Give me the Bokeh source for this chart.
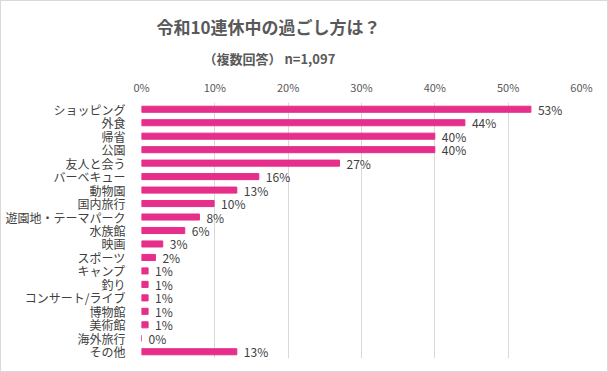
from bokeh.plotting import figure
from bokeh.models import Range1d, FactorRange, FixedTicker, PrintfTickFormatter, Title, ColumnDataSource
from bokeh.core.properties import value
from bokeh.embed import file_html
from bokeh.resources import INLINE

categories = ["ショッピング", "外食", "帰省", "公園", "友人と会う", "バーベキュー", "動物園", "国内旅行",
              "遊園地・テーマパーク", "水族館", "映画", "スポーツ", "キャンプ", "釣り", "コンサート/ライブ",
              "博物館", "美術館", "海外旅行", "その他"]
values = [53.1, 44.1, 40.0, 40.0, 27.0, 16.0, 13.0, 9.9, 7.9, 5.9, 2.9, 1.9, 0.9, 0.9, 0.9, 0.9, 0.9, 0.0, 13.0]
labels = ["53%", "44%", "40%", "40%", "27%", "16%", "13%", "10%", "8%", "6%", "3%", "2%", "1%", "1%", "1%",
          "1%", "1%", "0%", "13%"]
ticks = [0, 10, 20, 30, 40, 50, 60]

FONT = "Noto Sans CJK JP"
TXT = "#595959"

p = figure(width=608, height=372, output_backend="svg", toolbar_location=None,
           x_range=Range1d(0, 60), y_range=FactorRange(factors=categories[::-1]),
           x_axis_location="above", min_border_left=140, min_border_right=28,
           min_border_bottom=15, min_border_top=101)

src = ColumnDataSource(dict(cat=categories, val=values, lab=labels))
p.hbar(y="cat", right="val", left=0, height=0.45, color="#E62E8B", source=src)
p.text(x="val", y="cat", text="lab", source=src, x_offset=7, text_baseline="middle",
       text_font=value(FONT), text_font_size="12px", text_color="#404040")

p.xaxis.ticker = FixedTicker(ticks=ticks)
p.xaxis.formatter = PrintfTickFormatter(format="%d%%")
p.xaxis.axis_line_color = None
p.xaxis.major_tick_line_color = None
p.xaxis.minor_tick_line_color = None
p.xaxis.major_label_text_font = FONT
p.xaxis.major_label_text_font_size = "11px"
p.xaxis.major_label_text_color = TXT
p.xaxis.major_label_standoff = 2

p.yaxis.axis_line_color = None
p.yaxis.major_tick_line_color = None
p.yaxis.major_label_text_font = FONT
p.yaxis.major_label_text_font_size = "12px"
p.yaxis.major_label_text_color = "#404040"
p.yaxis.major_label_standoff = 10

p.xgrid.grid_line_color = "#D9D9D9"
p.ygrid.grid_line_color = None
p.outline_line_color = None

sub = Title(text="（複数回答） n=1,097", align="left", offset=62, text_font=FONT,
            text_font_size="13px", text_font_style="bold", text_color=TXT, standoff=16)
p.add_layout(sub, "above")
main = Title(text="令和10連休中の過ごし方は？", align="left", offset=15, text_font=FONT,
             text_font_size="17px", text_font_style="bold", text_color=TXT, standoff=0)
p.add_layout(main, "above")
p.title.text = ""
p.styles = {"border": "1px solid #D9D9D9"}

open("out.html", "w").write(file_html(p, INLINE))
